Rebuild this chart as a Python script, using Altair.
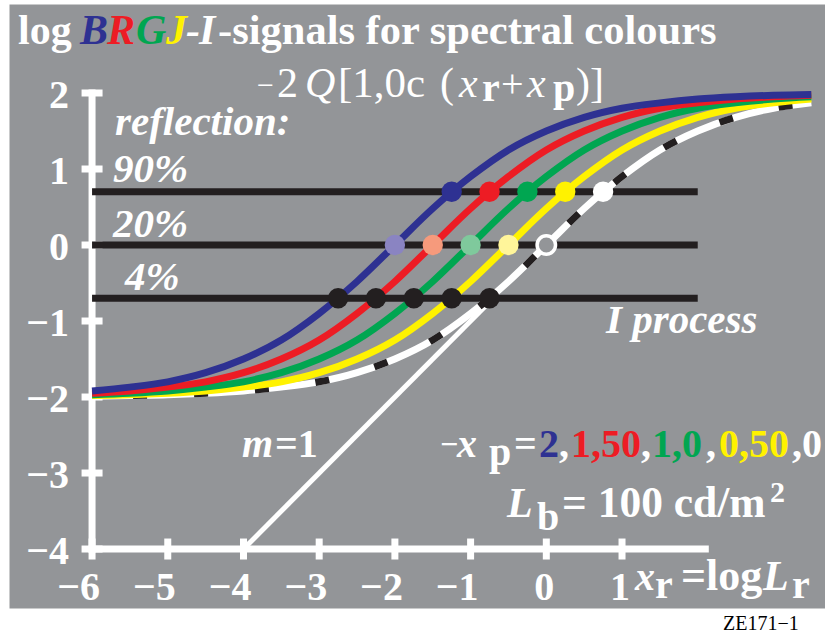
import altair as alt
import pandas as pd

# ---------------------------------------------------------------
# Data: log BRGJ-I signal curves, -2Q[1,0c (x_r + x_p)]
# ---------------------------------------------------------------
x_grid = [-6, -5.5, -5, -4.5, -4, -3.5, -3, -2.5, -2, -1.5, -1, -0.5,
          0, 0.5, 1, 1.5, 2, 2.5, 3, 3.5]

series_names = ["B", "R", "G", "J", "I"]          # -x_p = 2, 1.5, 1, 0.5, 0
y_blue = [-1.92, -1.87, -1.80, -1.68, -1.50, -1.25, -0.90, -0.48, 0.00, 0.48,
          0.90, 1.25, 1.50, 1.68, 1.80, 1.87, 1.92, 1.95, 1.97, 1.98]
y_red = [-1.95, -1.92, -1.87, -1.80, -1.68, -1.50, -1.25, -0.90, -0.48, 0.00,
         0.48, 0.90, 1.25, 1.50, 1.68, 1.80, 1.87, 1.92, 1.95, 1.97]
y_green = [-1.97, -1.95, -1.92, -1.87, -1.80, -1.68, -1.50, -1.25, -0.90, -0.48,
           0.00, 0.48, 0.90, 1.25, 1.50, 1.68, 1.80, 1.87, 1.92, 1.95]
y_yellow = [-1.98, -1.97, -1.95, -1.92, -1.87, -1.80, -1.68, -1.50, -1.25, -0.90,
            -0.48, 0.00, 0.48, 0.90, 1.25, 1.50, 1.68, 1.80, 1.87, 1.92]
y_white = [-1.99, -1.98, -1.97, -1.95, -1.92, -1.87, -1.80, -1.68, -1.50, -1.25,
           -0.90, -0.48, 0.00, 0.48, 0.90, 1.25, 1.50, 1.68, 1.80, 1.87]

# Reflection levels (90 %, 20 %, 4 %) as log signal relative to 20 %
reflection_labels = ["90%", "20%", "4%"]
reflection_levels = [0.70, 0.00, -0.70]

# Crossing points of each curve with the three reflection levels
dots_x_90 = [-1.25, -0.75, -0.25, 0.25, 0.75]
dots_x_20 = [-2.0, -1.5, -1.0, -0.5, 0.0]
dots_x_4 = [-2.75, -2.25, -1.75, -1.25, -0.75]

# Slope-one reference line m=1
m1_x = [-4.0, -0.75]
m1_y = [-4.0, -0.75]

# Axis ticks
x_ticks = [-6, -5, -4, -3, -2, -1, 0, 1]
x_tick_labels = ["\u22126", "\u22125", "\u22124", "\u22123", "\u22122", "\u22121", "0", "1"]
y_ticks = [2, 1, 0, -1, -2, -3, -4]
y_tick_labels = ["2", "1", "0", "\u22121", "\u22122", "\u22123", "\u22124"]

# ---------------------------------------------------------------
# Styling
# ---------------------------------------------------------------
FONT = "Liberation Serif"
BG = "#939598"
BLACK = "#231f20"
C_B, C_R, C_G, C_J, C_I = "#2e3192", "#ed1c24", "#00a651", "#fff200", "#ffffff"
LIGHT = ["#8a84c2", "#f69a7c", "#7fc99c", "#fff59a"]

PAD_L, PAD_T, PAD_B = 9, 4, 26
W, H = 816, 604

xs = alt.Scale(domain=[-7.097, 3.681], nice=False, zero=False)
ys = alt.Scale(domain=[-4.776, 3.171], nice=False, zero=False)


def X(field=None, datum=None):
    if datum is not None:
        return alt.X(datum=datum, type="quantitative", scale=xs, axis=None)
    return alt.X(field, type="quantitative", scale=xs, axis=None)


def Y(field=None, datum=None):
    if datum is not None:
        return alt.Y(datum=datum, type="quantitative", scale=ys, axis=None)
    return alt.Y(field, type="quantitative", scale=ys, axis=None)


one_row = alt.Data(values=[{"k": 0}])


def txt(s, x, y, size=40, color="white", italic=False, bold=True):
    """Text piece anchored at page coordinates (left edge, baseline)."""
    return alt.Chart(one_row).mark_text(
        text=s, align="left", baseline="alphabetic", font=FONT,
        fontSize=size, fontStyle="italic" if italic else "normal",
        fontWeight="bold" if bold else "normal", color=color,
    ).encode(x=alt.value(x - PAD_L), y=alt.value(y - PAD_T))


layers = []

# Axes
layers.append(alt.Chart(one_row).mark_rule(color="white", strokeWidth=7, strokeCap="square")
              .encode(x=X(datum=-6), y=Y(datum=-4), y2=alt.Y2(datum=2)))
layers.append(alt.Chart(one_row).mark_rule(color="white", strokeWidth=7, strokeCap="square")
              .encode(x=X(datum=-6), x2=alt.X2(datum=2.1), y=Y(datum=-4)))

xt = pd.DataFrame({"v": x_ticks, "lab": x_tick_labels})
yt = pd.DataFrame({"v": y_ticks, "lab": y_tick_labels})
layers.append(alt.Chart(xt).mark_tick(orient="vertical", size=21, thickness=7, color="white", opacity=1)
              .encode(x=X("v"), y=Y(datum=-4)))
layers.append(alt.Chart(yt).mark_tick(orient="horizontal", size=21, thickness=7, color="white", opacity=1)
              .encode(y=Y("v"), x=X(datum=-6)))
layers.append(alt.Chart(xt).mark_text(align="right", baseline="alphabetic", dx=8, dy=51,
                                      font=FONT, fontSize=40, fontWeight="bold", color="white")
              .encode(x=X("v"), y=Y(datum=-4), text="lab:N"))
layers.append(alt.Chart(yt).mark_text(align="right", baseline="alphabetic", dx=-23, dy=15,
                                      font=FONT, fontSize=40, fontWeight="bold", color="white")
              .encode(y=Y("v"), x=X(datum=-6), text="lab:N"))

# Reflection level lines
refl = pd.DataFrame({"lab": reflection_labels, "y": reflection_levels})
layers.append(alt.Chart(refl).mark_rule(color=BLACK, strokeWidth=7)
              .encode(y=Y("y"), x=X(datum=-6), x2=alt.X2(datum=2)))

# m = 1 reference line
m1 = pd.DataFrame({"x": m1_x, "y": m1_y})
layers.append(alt.Chart(m1).mark_line(color="white", strokeWidth=5)
              .encode(x=X("x"), y=Y("y")))

# Signal curves: white (dashed black/white) first, blue last on top
curve_data = {"I": y_white, "J": y_yellow, "G": y_green, "R": y_red, "B": y_blue}
curve_color = {"I": C_I, "J": C_J, "G": C_G, "R": C_R, "B": C_B}
for name in ["I", "J", "G", "R", "B"]:
    d = pd.DataFrame({"x": x_grid, "y": curve_data[name], "s": name})
    layers.append(alt.Chart(d).mark_line(color=curve_color[name], strokeWidth=7,
                                         interpolate="monotone", strokeCap="butt")
                  .encode(x=X("x"), y=Y("y")))
    if name == "I":
        layers.append(alt.Chart(d).mark_line(color=BLACK, strokeWidth=7, strokeDash=[14, 47],
                                             strokeDashOffset=20, interpolate="monotone",
                                             strokeCap="butt")
                      .encode(x=X("x"), y=Y("y")))

# Dots on the reflection levels
d90 = pd.DataFrame({"x": dots_x_90, "s": series_names})
layers.append(alt.Chart(d90).mark_point(filled=True, size=415, opacity=1, shape="circle")
              .encode(x=X("x"), y=Y(datum=reflection_levels[0]),
                      color=alt.Color("s:N", scale=alt.Scale(domain=series_names,
                                                             range=[C_B, C_R, C_G, C_J, C_I]),
                                      legend=None)))
d20 = pd.DataFrame({"x": dots_x_20[:4], "s20": [s + "20" for s in series_names[:4]]})
layers.append(alt.Chart(d20).mark_point(filled=True, size=415, opacity=1, shape="circle")
              .encode(x=X("x"), y=Y(datum=reflection_levels[1]),
                      fill=alt.Fill("s20:N", scale=alt.Scale(domain=list(d20["s20"]), range=LIGHT),
                                    legend=None)))
d20o = pd.DataFrame({"x": dots_x_20[4:], "s": series_names[4:]})
layers.append(alt.Chart(d20o).mark_point(filled=False, size=340, opacity=1, shape="circle",
                                         fill=BG, fillOpacity=1, stroke="white", strokeWidth=3.5)
              .encode(x=X("x"), y=Y(datum=reflection_levels[1])))
d4 = pd.DataFrame({"x": dots_x_4, "s": series_names})
layers.append(alt.Chart(d4).mark_point(filled=True, size=415, opacity=1, shape="circle", color=BLACK)
              .encode(x=X("x"), y=Y(datum=reflection_levels[2])))

# Title
layers += [
    txt("log", 18, 44, size=42),
    txt("B", 80, 44, size=42, color=C_B, italic=True),
    txt("R", 107, 44, size=42, color=C_R, italic=True),
    txt("G", 136, 44, size=42, color=C_G, italic=True),
    txt("J", 166, 44, size=42, color=C_J, italic=True),
    txt("-", 186, 44, size=42, italic=True),
    txt("I", 199, 44, size=42, italic=True),
    txt("-signals for spectral colours", 218, 44, size=42.5),
]

# Formula line
layers += [
    txt("\u2212", 257, 95, size=30, bold=False),
    txt("2", 277, 97, size=42, bold=False),
    txt("Q", 305, 97, size=42, italic=True, bold=False),
    txt("[1,0c", 338, 97, size=43, bold=False),
    txt("(", 440, 97, size=42, bold=False),
    txt("x", 459, 97, size=42, italic=True, bold=False),
    txt("r", 482, 101, size=40),
    txt("+", 501, 97, size=40, bold=False),
    txt("x", 527, 97, size=42, italic=True, bold=False),
    txt("p", 553, 101, size=40),
    txt(")]", 576, 97, size=42, bold=False),
]

# Reflection annotations
layers += [
    txt("reflection:", 115, 135, size=41, italic=True),
    txt(reflection_labels[0], 113, 182, size=41, italic=True),
    txt(reflection_labels[1], 113, 237, size=41, italic=True),
    txt(reflection_labels[2], 125, 290, size=41, italic=True),
    txt("I process", 606, 333, size=41, italic=True),
]

# m=1 and x_p legend
layers += [
    txt("m", 242, 457, italic=True),
    txt("=1", 275, 457),
    txt("\u2212", 440, 455, size=32),
    txt("x", 457, 457, italic=True),
    txt("p", 489, 465),
    txt("=", 514, 457),
    txt("2", 539, 457, color=C_B),
    txt(",", 559, 457),
    txt("1,50", 571, 457, color=C_R),
    txt(",", 641, 457),
    txt("1,0", 652, 457, color=C_G),
    txt(",", 706, 457),
    txt("0,50", 719, 457, color=C_J),
    txt(",0", 792, 457),
]

# Adapting luminance
layers += [
    txt("L", 507, 517, size=42, italic=True),
    txt("b", 537, 530),
    txt("= 100 cd/m", 562, 517, size=43.5),
    txt("2", 770, 502, size=30),
]

# x-axis title
layers += [
    txt("x", 635, 590, italic=True),
    txt("r", 655, 598),
    txt("=log", 681, 590, size=44),
    txt("L", 763, 590, size=42, italic=True),
    txt("r", 792, 598),
]

# Figure code below the plot
layers.append(txt("ZE171\u22121", 723, 630, size=20, color="black", bold=False))

chart = alt.layer(*layers).resolve_scale(
    color="independent", fill="independent"
).properties(
    width=W, height=H,
    padding={"left": PAD_L, "top": PAD_T, "right": 0, "bottom": PAD_B},
    autosize=alt.AutoSizeParams(type="none"),
    background="white",
).configure_view(fill=BG, strokeOpacity=0)

chart.save("out.html", embed_options={"renderer": "svg", "actions": False})
